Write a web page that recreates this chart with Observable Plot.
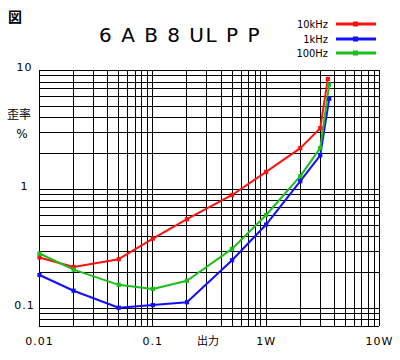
<!DOCTYPE html>
<html>
<head>
<meta charset="utf-8">
<script src="https://cdn.jsdelivr.net/npm/d3@7"></script>
<script src="https://cdn.jsdelivr.net/npm/@observablehq/plot@0.6"></script>
<style>
  html, body { margin: 0; padding: 0; background: #fff; }
  #wrap { position: relative; width: 400px; height: 360px; overflow: hidden; }
  #wrap svg { position: absolute; left: 0; top: 0; }
</style>
</head>
<body>
<div id="wrap"></div>
<script>
// ---- data ----
const seriesNames = ["10kHz", "1kHz", "100Hz"];
const seriesColors = ["#ff1010", "#1010ff", "#18c018"];

const watts10k = [0.01, 0.02, 0.05, 0.1, 0.2, 0.5, 1, 2, 3, 3.5];
const dist10k  = [0.267, 0.222, 0.258, 0.385, 0.56, 0.896, 1.40, 2.22, 3.27, 8.5];

const watts1k = [0.01, 0.02, 0.05, 0.1, 0.2, 0.5, 1, 2, 3, 3.6];
const dist1k  = [0.19, 0.140, 0.1007, 0.106, 0.112, 0.253, 0.505, 1.17, 1.93, 5.78];

const watts100 = [0.01, 0.02, 0.05, 0.1, 0.2, 0.5, 1, 2, 3, 3.6];
const dist100  = [0.288, 0.211, 0.157, 0.145, 0.170, 0.315, 0.608, 1.29, 2.22, 7.6];

// grid lines
const xGrid = [0.01, 0.02, 0.03, 0.04, 0.05, 0.06, 0.07, 0.08, 0.09,
               0.1, 0.2, 0.3, 0.4, 0.5, 0.6, 0.7, 0.8, 0.9,
               1, 2, 3, 4, 5, 6, 7, 8, 9, 10];
const yGrid = [0.07, 0.08, 0.09,
               0.1, 0.2, 0.3, 0.4, 0.5, 0.6, 0.7, 0.8, 0.9,
               1, 2, 3, 4, 5, 6, 7, 8, 9, 10];

// tick labels
const xTickValues = [0.01, 0.1, 1, 10];
const xTickLabels = ["0.01", "0.1", "1W", "10W"];
const yTickValues = [10, 1, 0.1];
const yTickLabels = ["10", "1", "0.1"];

const titleText = "6 A B 8 UL P P";
const xTitle = "出力";
const yTitle1 = "歪率";
const yTitle2 = "%";
const figMark = "図";

// ---- build table ----
const rows = [];
[[watts10k, dist10k], [watts1k, dist1k], [watts100, dist100]].forEach(([xs, ys], i) => {
  xs.forEach((w, j) => rows.push({series: seriesNames[i], w, d: ys[j]}));
});

const numFont = "DejaVu Sans, sans-serif";

const chart = Plot.plot({
  width: 400,
  height: 360,
  marginLeft: 39,
  marginRight: 21,
  marginTop: 70,
  marginBottom: 34,
  style: {background: "transparent", fontFamily: numFont},
  x: {type: "log", domain: [0.01, 10], axis: null},
  y: {type: "log", domain: [0.07, 10], axis: null},
  color: {domain: seriesNames, range: seriesColors},
  marks: [
    Plot.ruleX(xGrid, {x: d => d, stroke: "#000", strokeWidth: 1, shapeRendering: "crispEdges"}),
    Plot.ruleY(yGrid, {y: d => d, stroke: "#000", strokeWidth: 1, shapeRendering: "crispEdges"}),
    Plot.line(rows, {x: "w", y: "d", z: "series", stroke: "series", strokeWidth: 2, strokeLinejoin: "miter"}),
    Plot.dot(rows, {x: "w", y: "d", fill: "series", symbol: "square", r: 2.4, stroke: null}),
    Plot.text(xTickValues, {x: d => d, text: (d, i) => xTickLabels[i], frameAnchor: "bottom", dy: 15,
      lineAnchor: "middle", textAnchor: "middle", fontSize: 11, fill: "#000", fontFamily: numFont,
      style: "letter-spacing:1px"}),
    Plot.text(yTickValues, {y: d => d, text: (d, i) => yTickLabels[i], frameAnchor: "left", dx: -15, dy: -3,
      lineAnchor: "middle", textAnchor: "middle", fontSize: 11, fill: "#000", fontFamily: numFont})
  ]
});
// letter spacing on x tick labels
d3.select(chart).selectAll("text").style("letter-spacing", "1px");
document.getElementById("wrap").appendChild(chart);

// ---- overlay: title, legend, axis titles ----
const ov = d3.select("#wrap").append("svg")
  .attr("width", 400).attr("height", 360)
  .style("pointer-events", "none");

ov.append("text").attr("x", 15).attr("y", 22).attr("text-anchor", "middle")
  .attr("font-family", "Noto Sans CJK JP").attr("font-weight", "bold").attr("font-size", 14)
  .text(figMark);

ov.append("text").attr("x", 180).attr("y", 42).attr("text-anchor", "middle")
  .attr("font-family", numFont).attr("font-size", 20).style("letter-spacing", "1.5px")
  .text(titleText);

const legY = [24, 39, 53];
seriesNames.forEach((n, i) => {
  const g = ov.append("g");
  g.append("text").attr("x", 328).attr("y", legY[i] + 4).attr("text-anchor", "end")
    .attr("font-family", "DejaVu Sans Condensed, DejaVu Sans, sans-serif").attr("font-size", 11)
    .text(n);
  g.append("line").attr("x1", 336).attr("x2", 376).attr("y1", legY[i]).attr("y2", legY[i])
    .attr("stroke", seriesColors[i]).attr("stroke-width", 3);
  g.append("rect").attr("x", 353).attr("y", legY[i] - 2.5).attr("width", 5).attr("height", 5)
    .attr("fill", seriesColors[i]);
});

ov.append("text").attr("x", 19).attr("y", 119).attr("text-anchor", "middle")
  .attr("font-family", "Noto Sans CJK JP").attr("font-size", 12).text(yTitle1);
ov.append("text").attr("x", 22).attr("y", 138).attr("text-anchor", "middle")
  .attr("font-family", numFont).attr("font-size", 12).text(yTitle2);
ov.append("text").attr("x", 208).attr("y", 345).attr("text-anchor", "middle")
  .attr("font-family", "Noto Sans CJK JP").attr("font-size", 11).text(xTitle);
</script>
</body>
</html>
